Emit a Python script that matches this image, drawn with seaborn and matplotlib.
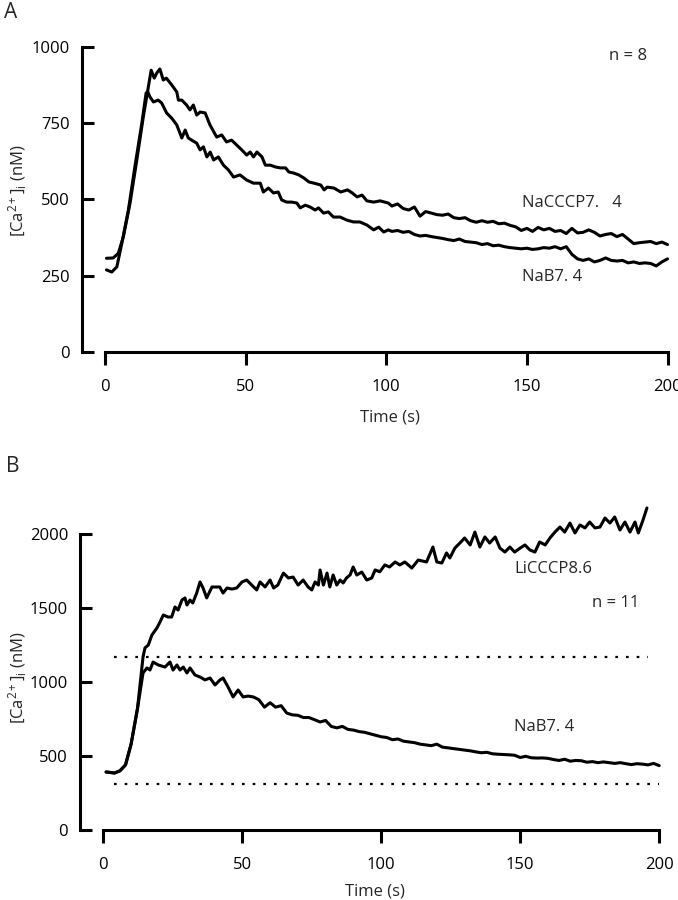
import matplotlib
matplotlib.use("Agg")
import matplotlib.pyplot as plt
import seaborn as sns
import pandas as pd

# ---------------- Panel A data ----------------
a_nacccp_t = [0.5, 2.9, 4.7, 6.5, 8.9, 11.3, 13.6, 15.4, 16.4, 17.5, 18.4, 19.5, 20.7, 21.8, 23.7, 25.5, 26.1, 27.3,
              29.0, 30.2, 31.4, 32.6, 33.8, 35.6, 37.3, 39.7, 41.5, 43.2, 45.0, 46.8, 48.6, 50.4, 51.6, 52.8, 54.0,
              55.8, 57.0, 58.8, 60.6, 62.4, 64.2, 65.3, 67.1, 68.9, 70.7, 72.5, 74.3, 76.7, 77.9, 79.0, 81.4, 83.8,
              86.2, 87.9, 89.6, 91.4, 93.1, 95.5, 97.8, 100.7, 102, 104, 106, 108, 110, 112, 114, 116, 118,
              120, 122, 124, 126, 128, 130, 132, 134, 136, 138, 140, 142, 144, 146, 148, 150, 152, 154, 156, 158,
              160, 162, 164, 166, 168, 170, 172, 174, 176, 178, 180, 182, 184, 186, 188, 190, 192, 194, 196, 198, 200]
a_nacccp_v = [307, 308, 323, 377, 488, 629, 770, 868, 923, 897, 914, 927, 891, 897, 875, 852, 825, 825,
              809, 793, 809, 776, 786, 783, 744, 704, 711, 688, 694, 678, 662, 645, 655, 639, 655,
              639, 612, 612, 606, 603, 603, 590, 586, 580, 570, 557, 553, 547, 531, 540, 537, 524,
              531, 521, 508, 514, 495, 491, 495, 488, 478, 485, 470, 465, 475, 445, 460, 455, 450,
              448, 452, 440, 437, 440, 430, 425, 430, 425, 428, 420, 422, 415, 410, 398, 405, 395, 408, 400, 405,
              395, 398, 388, 405, 390, 392, 400, 392, 380, 385, 388, 378, 385, 370, 355, 358, 360, 362, 355, 360, 352]

a_nab_t = [0.5, 2.4, 4.2, 6.0, 8.3, 10.6, 13.1, 14.6, 15.2, 16.0, 17.2, 18.9, 20.1, 21.9, 23.7, 25.5, 27.3, 28.5,
           29.6, 30.8, 32.6, 33.8, 35.0, 36.2, 37.4, 38.6, 40.3, 42.1, 43.9, 45.7, 48.0, 50.4, 52.8, 55.2, 56.3,
           58.1, 59.9, 61.6, 62.8, 64.6, 66.4, 68.2, 69.4, 71.2, 72.9, 74.7, 75.9, 77.7, 79.4, 81.2, 83.6, 86.0,
           88.3, 90.6, 93.1, 95.5, 97.3, 99.1, 100.7, 102, 104, 106, 108, 110, 112, 114, 116, 118,
           120, 122, 124, 126, 128, 130, 132, 134, 136, 138, 140, 142, 144, 146, 148, 150, 152, 154, 156, 158,
           160, 162, 164, 166, 168, 170, 172, 174, 176, 178, 180, 182, 184, 186, 188, 190, 192, 194, 196, 198, 200]
a_nab_v = [269, 262, 279, 357, 465, 606, 750, 848, 852, 835, 819, 825, 816, 783, 766, 744, 701, 727,
           701, 694, 684, 662, 672, 639, 655, 629, 639, 612, 596, 573, 580, 563, 553, 553, 524,
           537, 521, 524, 498, 491, 491, 488, 472, 481, 475, 465, 472, 455, 459, 442, 442, 432,
           426, 426, 416, 400, 409, 393, 400, 395, 398, 392, 395, 385, 380, 382, 378, 375,
           372, 368, 365, 370, 362, 360, 358, 352, 355, 348, 350, 345, 342, 340, 338, 340, 336, 338, 342, 340,
           345, 338, 345, 320, 305, 300, 305, 295, 300, 308, 300, 298, 300, 292, 295, 290, 292, 290, 282, 295, 305]

# ---------------- Panel B data ----------------
b_licccp_t = [1, 2, 4, 6, 8, 10, 12.3, 14.3, 15.0, 16.2, 17.5, 19.3, 20.4, 21.6, 23.3, 24.6, 25.8, 26.9, 28.3, 29.4,
              30.1, 31.2, 32.2, 33.6, 34.8, 35.9, 37.2, 39.1, 41.9, 43.1, 44.5, 46.3, 48.0, 49.9, 51.6, 53.4, 55.2,
              56.4, 58.2, 60.0, 61.3, 62.8, 64.8, 66.6, 68.3, 70.1, 71.9, 73.7, 75.0, 76.2, 77.4, 78.0, 79.2, 80.5,
              81.5, 82.7, 84.0, 85.2, 86.3, 87.5, 88.8, 89.9, 91.2, 93.0, 94.8, 96.6, 97.8, 99.5, 101.3, 103.0,
              105.0, 106.7, 108.5, 111.0, 113.3, 116.3, 118.6, 120.0, 121.8, 123.5, 124.7, 126.5, 128.3, 130.0,
              132.0, 133.7, 135.5, 137.3, 139.0, 141.0, 142.7, 144.5, 146.3, 148.0, 150.0, 151.7, 153.5, 155.3,
              157.0, 159.0, 160.7, 162.5, 164.3, 166.0, 167.9, 169.7, 171.5, 173.3, 175.0, 176.9, 178.7, 180.5,
              182.3, 184.0, 185.9, 187.7, 189.5, 191.3, 192.5, 194.2, 195.6]
b_licccp_v = [392, 390, 385, 400, 440, 580, 820, 1169, 1230, 1250, 1318, 1365, 1405, 1453, 1439, 1439, 1507, 1486, 1554, 1568,
              1520, 1554, 1534, 1601, 1676, 1635, 1568, 1642, 1642, 1601, 1635, 1628, 1635, 1676, 1689, 1655, 1622,
              1676, 1642, 1689, 1635, 1655, 1736, 1703, 1709, 1655, 1689, 1642, 1622, 1676, 1655, 1757, 1655, 1736,
              1642, 1723, 1655, 1689, 1669, 1703, 1723, 1777, 1723, 1743, 1689, 1703, 1757, 1745, 1791, 1777,
              1811, 1791, 1811, 1770, 1824, 1811, 1912, 1811, 1804, 1872, 1838, 1905, 1939, 1973,
              1926, 2013, 1912, 1980, 1939, 1980, 1905, 1878, 1912, 1878, 1905, 1926, 1892, 1878,
              1946, 1926, 1973, 2013, 2047, 2013, 2074, 2007, 2061, 2041, 2081, 2041, 2047, 2108,
              2074, 2115, 2027, 2081, 2013, 2081, 2007, 2095, 2176]

b_nab_t = [1, 2, 4, 6, 8, 10, 12.3, 14.3, 15.7, 16.8, 17.9, 19.8, 22.2, 24.0, 25.1, 26.5, 27.6, 28.8, 30.1, 31.2,
           33.0, 34.8, 36.6, 38.4, 40.2, 42.0, 43.1, 44.9, 46.7, 48.5, 50.3, 52.1, 54, 56, 58, 60, 62, 64, 66, 68,
           70, 72, 74, 76, 78, 80, 82, 84, 86, 88, 90, 92, 94, 96, 98, 100, 102, 104, 106, 108, 110, 112, 114, 116, 118,
           120, 122, 124, 126, 128, 130, 132, 134, 136, 138, 140, 142, 144, 146, 148, 150, 152, 154, 156, 158,
           160, 162, 164, 166, 168, 170, 172, 174, 176, 178, 180, 182, 184, 186, 188, 190, 192, 194, 196, 198, 200]
b_nab_v = [392, 390, 385, 400, 440, 580, 820, 1061, 1095, 1081, 1135, 1115, 1101, 1135, 1081, 1115, 1081, 1101, 1061, 1095,
           1047, 1034, 1014, 1027, 980, 1014, 1027, 966, 899, 946, 899, 905, 899, 880, 830, 860, 830, 840, 790, 778,
           775, 760, 760, 745, 730, 740, 700, 690, 700, 680, 675, 665, 660, 650, 640, 630, 625, 610, 615, 600, 595, 590, 580, 575, 570,
           580, 560, 555, 550, 545, 540, 535, 528, 522, 525, 515, 512, 510, 508, 505, 490, 498, 488, 486, 487,
           484, 476, 470, 478, 465, 470, 468, 458, 462, 455, 460, 455, 450, 455, 448, 442, 448, 445, 440, 450, 435]

# dotted reference lines (panel B)
b_ref_levels = [1170, 310]
b_ref_starts = [4, 4]
b_ref_ends = [196, 200]

x_ticks = [0, 50, 100, 150, 200]
a_y_ticks = [0, 250, 500, 750, 1000]
b_y_ticks = [0, 500, 1000, 1500, 2000]

a_labels = ["NaCCCP7.   4", "NaB7. 4"]
b_labels = ["LiCCCP8.6", "NaB7. 4"]

# ---------------- style ----------------
sns.set_style("ticks")
plt.rcParams['font.family'] = ['Open Sans', 'DejaVu Sans']
plt.rcParams['mathtext.fontset'] = 'custom'
plt.rcParams['mathtext.rm'] = 'Open Sans'
plt.rcParams['mathtext.it'] = 'Open Sans:italic'

W, H = 678, 900
fig = plt.figure(figsize=(W / 100, H / 100), dpi=100)

def px_axes(left, top, right, bottom):
    return fig.add_axes([left / W, (H - bottom) / H, (right - left) / W, (bottom - top) / H])

LW = 2.2

def style(ax, yticks, ybound):
    sns.despine(ax=ax)
    for s in ("left", "bottom"):
        ax.spines[s].set_linewidth(LW)
        ax.spines[s].set_color("black")
    ax.spines["bottom"].set_bounds(0, 200)
    ax.spines["left"].set_bounds(0, ybound)
    ax.set_xticks(x_ticks)
    ax.set_yticks(yticks)
    ax.tick_params(axis="x", direction="out", length=9.4, width=LW, pad=10, labelsize=12, colors="black")
    ax.tick_params(axis="y", direction="in", length=8.6, width=LW, pad=8.6, labelsize=12, colors="black")
    ax.set_xlabel("")
    ax.set_ylabel("")

# ---------------- Panel A ----------------
axA = px_axes(82, 46.7, 672, 352)
dfA1 = pd.DataFrame({"t": a_nacccp_t, "v": a_nacccp_v})
dfA2 = pd.DataFrame({"t": a_nab_t, "v": a_nab_v})
sns.lineplot(data=dfA1, x="t", y="v", ax=axA, color="black", lw=LW)
sns.lineplot(data=dfA2, x="t", y="v", ax=axA, color="black", lw=LW)
axA.set_xlim(-8.19, 201.6)
axA.set_ylim(0, 1000)
style(axA, a_y_ticks, 1000)
axA.text(186, 970, "n = 8", fontsize=12, ha="center", va="center")
axA.text(148.4, 488, a_labels[0], fontsize=12, ha="left", va="center")
axA.text(148.4, 246, a_labels[1], fontsize=12, ha="left", va="center")

# ---------------- Panel B ----------------
axB = px_axes(80, 504.4, 665, 830)
dfB1 = pd.DataFrame({"t": b_licccp_t, "v": b_licccp_v})
dfB2 = pd.DataFrame({"t": b_nab_t, "v": b_nab_v})
sns.lineplot(data=dfB1, x="t", y="v", ax=axB, color="black", lw=LW)
sns.lineplot(data=dfB2, x="t", y="v", ax=axB, color="black", lw=LW)
for lvl, s, e in zip(b_ref_levels, b_ref_starts, b_ref_ends):
    axB.plot([s, e], [lvl, lvl], color="black", lw=1.6, linestyle=(0, (1.2, 3.6)))
axB.set_xlim(-8.38, 202.1)
axB.set_ylim(0, 2200)
style(axB, b_y_ticks, 2000)
axB.text(147.8, 1764, b_labels[0], fontsize=12, ha="left", va="center")
axB.text(175.9, 1534, "n = 11", fontsize=12, ha="left", va="center")
axB.text(147.8, 696, b_labels[1], fontsize=12, ha="left", va="center")

# ---------------- labels ----------------
ylab = r"[Ca$^{2+}$]$_{\mathrm{i}}$ (nM)"
fig.text(18 / W, 1 - 191 / H, ylab, rotation=90, ha="center", va="center", fontsize=12)
fig.text(18 / W, 1 - 678 / H, ylab, rotation=90, ha="center", va="center", fontsize=12)
fig.text(390 / W, 1 - 418 / H, "Time (s)", ha="center", va="center", fontsize=12)
fig.text(375 / W, 1 - 891 / H, "Time (s)", ha="center", va="center", fontsize=12)
fig.text(11 / W, 1 - 13 / H, "A", ha="center", va="center", fontsize=15)
fig.text(13 / W, 1 - 466 / H, "B", ha="center", va="center", fontsize=15)

fig.savefig("out.png", dpi=100)
